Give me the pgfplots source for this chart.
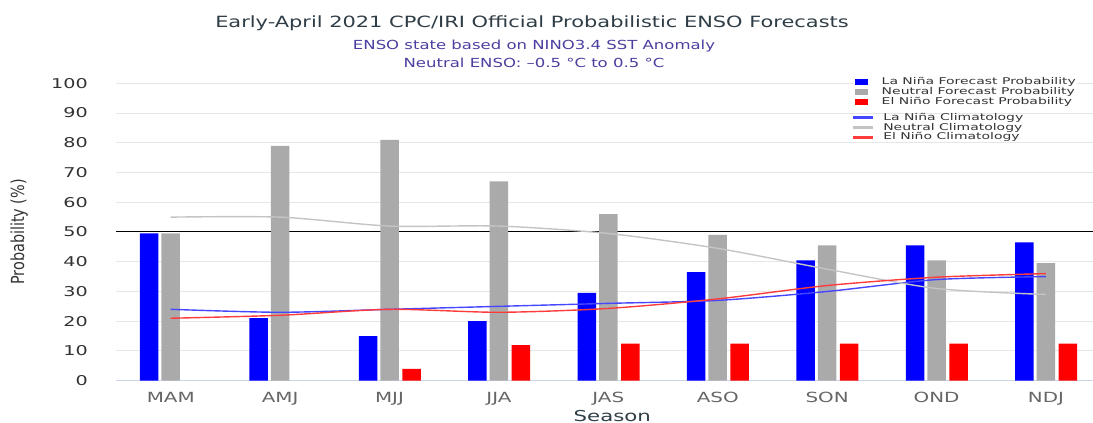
\documentclass[border=0pt]{standalone}
\usepackage{pgfplots}
\pgfplotsset{compat=1.18}
\usepackage{fontspec}
\setmainfont{DejaVu Sans}
\newfontfamily\titlef[FakeStretch=1.35]{DejaVu Sans}
\newfontfamily\subf[FakeStretch=1.32]{DejaVu Sans}
\newfontfamily\tickf[FakeStretch=1.42]{DejaVu Sans}
\newfontfamily\legf[FakeStretch=1.5]{DejaVu Sans}
\newfontfamily\ylabf[FakeStretch=0.8]{DejaVu Sans}
\definecolor{nina}{HTML}{0000FF}
\definecolor{neut}{HTML}{AAAAAA}
\definecolor{nino}{HTML}{FF0000}
\definecolor{gridc}{HTML}{E6E6E6}
\definecolor{axisc}{HTML}{CCD6EB}
\definecolor{titlec}{HTML}{2F3D47}
\definecolor{subc}{HTML}{4B3FA0}
\definecolor{txtc}{HTML}{333333}
\definecolor{ticxc}{HTML}{666666}
\definecolor{clnina}{HTML}{4646FF}
\definecolor{clneut}{HTML}{C4C4C4}
\definecolor{clnino}{HTML}{FF3C3C}

\pgfplotsset{base/.style={
  at={(116pt,42.3pt)}, anchor=south west,
  scale only axis, width=977pt, height=297.4pt,
  xmin=-0.5, xmax=8.43, ymin=0, ymax=100,
  xtick={0,...,8},
  xticklabels={MAM,AMJ,MJJ,JJA,JAS,ASO,SON,OND,NDJ},
  ytick={0,10,...,100},
  major tick length=0pt,
  /pgf/number format/assume math mode=true,
}}

\begin{document}
\begin{tikzpicture}[x=1pt,y=1pt]
\useasboundingbox (0,0) rectangle (1093,423);
\node[font=\titlef\fontsize{15.5}{18}\selectfont, text=titlec] at (532,400) {Early-April 2021 CPC/IRI Official Probabilistic ENSO Forecasts};
\node[font=\subf\fontsize{12.5}{15}\selectfont, text=subc] at (534,377) {ENSO state based on NINO3.4 SST Anomaly};
\node[font=\subf\fontsize{12.5}{15}\selectfont, text=subc] at (534,360.3) {Neutral ENSO: –0.5 °C to 0.5 °C};

\begin{axis}[base,
  axis x line*=bottom, axis y line*=left,
  y axis line style={draw=none},
  x axis line style={draw=axisc, line width=1pt},
  ymajorgrids, grid style={draw=gridc, line width=1pt},
  yticklabel style={font=\tickf\fontsize{13.5}{15}\selectfont, text=txtc, anchor=east, inner sep=0pt, xshift=-28pt},
  xticklabel style={font=\tickf\fontsize{14}{15}\selectfont, text=ticxc, anchor=north, inner sep=0pt, yshift=-11pt},
  ylabel={Probability (\%)},
  ylabel style={font=\ylabf\fontsize{18}{20}\selectfont, text=txtc, at={(axis description cs:-0.099,0.5)}, anchor=center, rotate=0},
  xlabel={Season},
  xlabel style={font=\tickf\fontsize{15}{17}\selectfont, text=titlec, at={(axis description cs:0.508,0)}, anchor=center, yshift=-35pt},
  legend cell align=left,
  legend style={at={(axis description cs:0.7554,1.0256)}, anchor=north west, draw=none, fill=white, inner sep=1pt,
    row sep=0pt, /tikz/every odd column/.append style={column sep=13.5pt},
    nodes={inner sep=0pt, text height=7.2pt, text depth=3pt, font=\legf\fontsize{9.3}{10}\selectfont, text=txtc}},
]
\addplot[black, line width=1pt, forget plot] coordinates {(-0.5,50) (8.43,50)};
\addplot[ybar, bar width=18.5pt, bar shift=-21.5pt, fill=nina, draw=none,
  legend image code/.code={\fill[nina] (0pt,-3pt) rectangle (13pt,3pt);}]
  coordinates {(0,49.5) (1,21) (2,15) (3,20) (4,29.5) (5,36.5) (6,40.5) (7,45.5) (8,46.5)};
\addlegendentry{La Niña Forecast Probability}
\addplot[ybar, bar width=18.5pt, bar shift=0pt, fill=neut, draw=none,
  legend image code/.code={\fill[neut] (0pt,-3pt) rectangle (13pt,3pt);}]
  coordinates {(0,49.5) (1,79) (2,81) (3,67) (4,56) (5,49) (6,45.5) (7,40.5) (8,39.5)};
\addlegendentry{Neutral Forecast Probability}
\addplot[ybar, bar width=18.5pt, bar shift=22pt, fill=nino, draw=none,
  legend image code/.code={\fill[nino] (0pt,-3pt) rectangle (13pt,3pt);}]
  coordinates {(2,4) (3,12) (4,12.5) (5,12.5) (6,12.5) (7,12.5) (8,12.5)};
\addlegendentry{El Niño Forecast Probability}
\end{axis}

\begin{axis}[base, hide axis,
  legend cell align=left,
  legend style={at={(axis description cs:0.753,0.904)}, anchor=north west, draw=none, fill=none, inner sep=1pt,
    row sep=0pt, /tikz/every odd column/.append style={column sep=10pt},
    nodes={inner sep=0pt, text height=7.2pt, text depth=2.6pt, font=\legf\fontsize{9.3}{10}\selectfont, text=txtc}},
]
\addplot[draw=clnina, line width=1.4pt, smooth, tension=0.45,
  legend image code/.code={\fill[clnina] (0pt,-0.8pt) rectangle (19pt,0.8pt);}]
  coordinates {(0,24) (1,23) (2,24) (3,25) (4,26) (5,27) (6,30) (7,34) (8,35)};
\addlegendentry{La Niña Climatology}
\addplot[draw=clneut, line width=1.4pt, smooth, tension=0.45,
  legend image code/.code={\fill[clneut] (0pt,-0.8pt) rectangle (19pt,0.8pt);}]
  coordinates {(0,55) (1,55) (2,52) (3,52) (4,49.5) (5,44.5) (6,37.5) (7,31) (8,29)};
\addlegendentry{Neutral Climatology}
\addplot[draw=clnino, line width=1.4pt, smooth, tension=0.45,
  legend image code/.code={\fill[clnino] (0pt,-0.8pt) rectangle (19pt,0.8pt);}]
  coordinates {(0,21) (1,22) (2,24) (3,23) (4,24.3) (5,27.5) (6,32) (7,34.8) (8,36)};
\addlegendentry{El Niño Climatology}
\end{axis}
\end{tikzpicture}
\end{document}
